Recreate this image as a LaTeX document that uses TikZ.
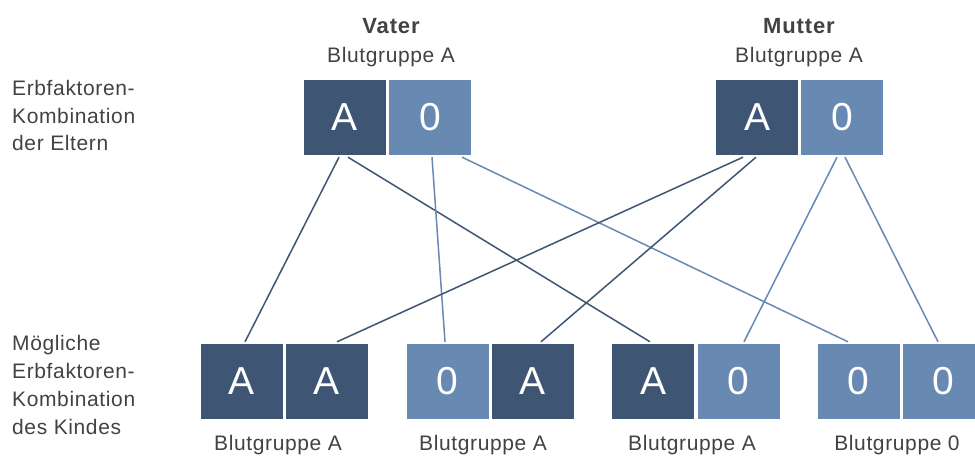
\documentclass[tikz,border=0pt]{standalone}
\usepackage{fontspec}
\setmainfont{Liberation Sans}
\newfontfamily\lbl{Liberation Sans}[LetterSpace=3]
\newfontfamily\hdr{Liberation Sans}[LetterSpace=4]
\definecolor{domc}{RGB}{62,86,115}
\definecolor{recc}{RGB}{103,137,178}
\definecolor{txtc}{RGB}{66,66,66}
\begin{document}
\begin{tikzpicture}[x=1pt,y=-1pt,
  gene/.style={minimum width=82pt, minimum height=75pt, inner sep=0pt, text=white, font=\fontsize{39}{39}\selectfont},
  dom/.style={gene, fill=domc},
  rec/.style={gene, fill=recc},
  lab/.style={text=txtc, font=\lbl\fontsize{21}{27.7}\selectfont, inner sep=0pt},
  head/.style={text=txtc, font=\hdr\bfseries\fontsize{22}{22}\selectfont, inner sep=0pt, anchor=base},
  domline/.style={draw=domc, line width=1.5pt},
  recline/.style={draw=recc, line width=1.5pt}]
\useasboundingbox (0,0) rectangle (975,458);
% parents
\node[dom] (fA) at (345,117.5) {A};
\node[rec] (f0) at (430,117.5) {0};
\node[dom] (mA) at (757,117.5) {A};
\node[rec] (m0) at (842,117.5) {0};
% children
\node[dom] (c1a) at (242,381.5) {A};
\node[dom] (c1b) at (326.5,381.5) {A};
\node[rec] (c2a) at (447.5,381.5) {0};
\node[dom] (c2b) at (532.5,381.5) {A};
\node[dom] (c3a) at (653,381.5) {A};
\node[rec] (c3b) at (738.5,381.5) {0};
\node[rec] (c4a) at (858.5,381.5) {0};
\node[rec] (c4b) at (943.5,381.5) {0};
% headings
\node[head] (vater) at (391,33.3) {Vater};
\node[lab, anchor=base] (vbg) at (391,62.7) {Blutgruppe A};
\node[head] (mutter) at (799,33.3) {Mutter};
\node[lab, anchor=base] (mbg) at (799,62.7) {Blutgruppe A};
% left labels
\node[lab, anchor=north west, align=left] (eltern) at (12,80) {Erbfaktoren-\\Kombination\\der Eltern};
\node[lab, anchor=north west, align=left] (kind) at (12,335.5) {Mögliche\\Erbfaktoren-\\Kombination\\des Kindes};
% child labels
\node[lab, anchor=base] (bg1) at (278,450) {Blutgruppe A};
\node[lab, anchor=base] (bg2) at (483,450) {Blutgruppe A};
\node[lab, anchor=base] (bg3) at (692,450) {Blutgruppe A};
\node[lab, anchor=base] (bg4) at (897,450) {Blutgruppe 0};
% connectors
\draw[domline] ([xshift=-6pt,yshift=-2pt]fA.south) -- ([xshift=3pt,yshift=2pt]c1a.north);
\draw[domline] ([xshift=3pt,yshift=-2pt]fA.south) -- ([xshift=-3pt,yshift=2pt]c3a.north);
\draw[recline] ([xshift=2pt,yshift=-2pt]f0.south) -- ([xshift=-2.5pt,yshift=2pt]c2a.north);
\draw[recline] ([xshift=32pt,yshift=-2pt]f0.south) -- ([xshift=-10.5pt,yshift=2pt]c4a.north);
\draw[domline] ([xshift=-14pt,yshift=-2pt]mA.south) -- ([xshift=10.5pt,yshift=2pt]c1b.north);
\draw[domline] ([xshift=-1pt,yshift=-2pt]mA.south) -- ([xshift=8.5pt,yshift=2pt]c2b.north);
\draw[recline] ([xshift=-5pt,yshift=-2pt]m0.south) -- ([xshift=5.5pt,yshift=2pt]c3b.north);
\draw[recline] ([xshift=3pt,yshift=-2pt]m0.south) -- ([xshift=-5.5pt,yshift=2pt]c4b.north);
\end{tikzpicture}
\end{document}
